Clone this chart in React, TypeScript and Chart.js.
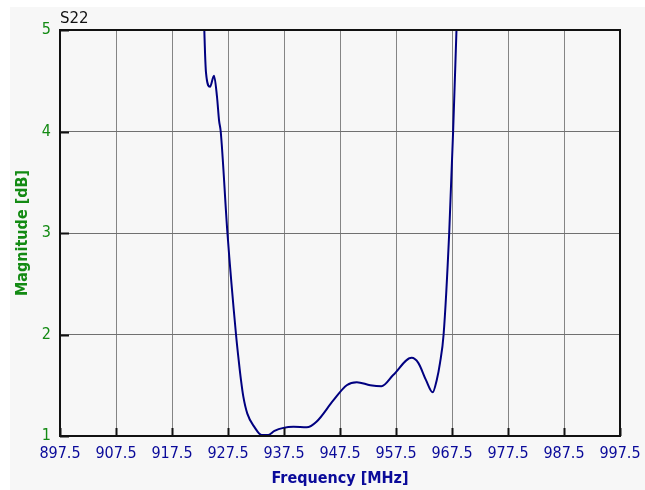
import React, { useEffect, useRef } from 'react';
import { Chart, registerables } from 'chart.js';

Chart.register(...registerables);

const freqMHz = [923.27, 923.4, 923.57, 924.29, 925.0, 925.54, 925.9, 926.2, 927.4, 928.93, 929.46, 929.82, 930.23, 930.95, 932.2, 933.5, 934.7, 935.8, 937.4, 939.2, 941.55, 943.3, 946.3, 948.7, 950.5, 952.9, 954.9, 957.0, 960.3, 961.48, 962.86, 964.05, 964.77, 965.36, 966.0, 967.0, 967.7, 968.3];
const magnitudeDb = [5.0, 4.77, 4.58, 4.44, 4.55, 4.34, 4.11, 4.0, 3.0, 2.0, 1.72, 1.55, 1.39, 1.22, 1.09, 1.01, 1.01, 1.05, 1.08, 1.09, 1.085, 1.14, 1.35, 1.5, 1.53, 1.5, 1.49, 1.6, 1.77, 1.72, 1.55, 1.43, 1.55, 1.72, 2.0, 3.0, 4.0, 5.0];
const xTicks = [897.5, 907.5, 917.5, 927.5, 937.5, 947.5, 957.5, 967.5, 977.5, 987.5, 997.5];
const yTicks = [1, 2, 3, 4, 5];
const traceLabel = 'S22';

const decorPlugin = {
  id: 'decor',
  beforeDraw(chart: any) {
    const ctx = chart.ctx;
    ctx.save();
    ctx.fillStyle = '#ffffff';
    ctx.fillRect(0, 0, chart.width, chart.height);
    ctx.fillStyle = '#f7f7f7';
    ctx.fillRect(10, 7, chart.width - 10, chart.height - 7);
    ctx.restore();
  },
  afterDraw(chart: any) {
    const ctx = chart.ctx;
    const a = chart.chartArea;
    const xs = chart.scales.x;
    const ys = chart.scales.y;
    ctx.save();
    ctx.strokeStyle = '#111111';
    ctx.lineWidth = 2;
    ctx.beginPath();
    xTicks.forEach((v) => {
      const px = Math.round(xs.getPixelForValue(v)) + 0.5;
      ctx.moveTo(px, a.bottom);
      ctx.lineTo(px, a.bottom - 8);
    });
    yTicks.forEach((v) => {
      const py = Math.round(ys.getPixelForValue(v)) + 0.5;
      ctx.moveTo(a.left, py);
      ctx.lineTo(a.left + 9, py);
    });
    ctx.stroke();
    ctx.lineWidth = 2;
    ctx.strokeRect(a.left, a.top, a.right - a.left, a.bottom - a.top);
    ctx.fillStyle = '#111111';
    ctx.font = '15px "DejaVu Sans"';
    ctx.textAlign = 'left';
    ctx.textBaseline = 'alphabetic';
    ctx.fillText(traceLabel, a.left, a.top - 7);
    ctx.restore();
  },
};

export default function App() {
  const canvasRef = useRef<HTMLCanvasElement | null>(null);

  useEffect(() => {
    if (!canvasRef.current) return;
    const chart = new Chart(canvasRef.current, {
      type: 'line',
      data: {
        datasets: [
          {
            label: traceLabel,
            data: freqMHz.map((f, i) => ({ x: f, y: magnitudeDb[i] })),
            borderColor: '#000080',
            borderWidth: 2,
            pointRadius: 0,
            fill: false,
            cubicInterpolationMode: 'monotone',
          },
        ],
      },
      options: {
        animation: false,
        responsive: false,
        maintainAspectRatio: false,
        layout: { padding: { left: 10, top: 30, right: 25, bottom: 0 } },
        plugins: { legend: { display: false }, tooltip: { enabled: false } },
        scales: {
          x: {
            type: 'linear',
            min: 897.5,
            max: 997.5,
            afterBuildTicks: (scale: any) => {
              scale.ticks = xTicks.map((v) => ({ value: v }));
            },
            afterFit: (scale: any) => {
              scale.height = 54;
              scale.paddingLeft = 0;
              scale.paddingRight = 0;
            },
            ticks: {
              autoSkip: false,
              maxRotation: 0,
              padding: 8,
              color: '#0a0a9a',
              font: { family: '"DejaVu Sans Condensed", "DejaVu Sans"', size: 16 },
              callback: (v: any) => Number(v).toFixed(1),
            },
            grid: { color: '#858585', lineWidth: 1, drawTicks: false },
            border: { display: false },
            title: {
              display: true,
              text: 'Frequency [MHz]',
              color: '#0a0a9a',
              padding: { top: 0, bottom: 2 },
              font: { family: '"DejaVu Sans Condensed", "DejaVu Sans"', size: 16, weight: 'bold' },
            },
          },
          y: {
            type: 'linear',
            min: 1,
            max: 5,
            afterBuildTicks: (scale: any) => {
              scale.ticks = yTicks.map((v) => ({ value: v }));
            },
            afterFit: (scale: any) => {
              scale.width = 50;
            },
            ticks: {
              padding: 9,
              color: '#138a13',
              font: { family: '"DejaVu Sans Condensed", "DejaVu Sans"', size: 16 },
              callback: (v: any) => String(v),
            },
            grid: { color: '#707070', lineWidth: 1, drawTicks: false },
            border: { display: false },
            title: {
              display: true,
              text: 'Magnitude [dB]',
              color: '#138a13',
              padding: { top: 3, bottom: 0 },
              font: { family: '"DejaVu Sans Condensed", "DejaVu Sans"', size: 16, weight: 'bold' },
            },
          },
        },
      },
      plugins: [decorPlugin],
    });
    return () => chart.destroy();
  }, []);

  return (
    <div style={{ position: 'absolute', left: 0, top: 0, width: 645, height: 490 }}>
      <canvas ref={canvasRef} width={645} height={490} style={{ width: 645, height: 490, display: 'block' }} />
    </div>
  );
}
